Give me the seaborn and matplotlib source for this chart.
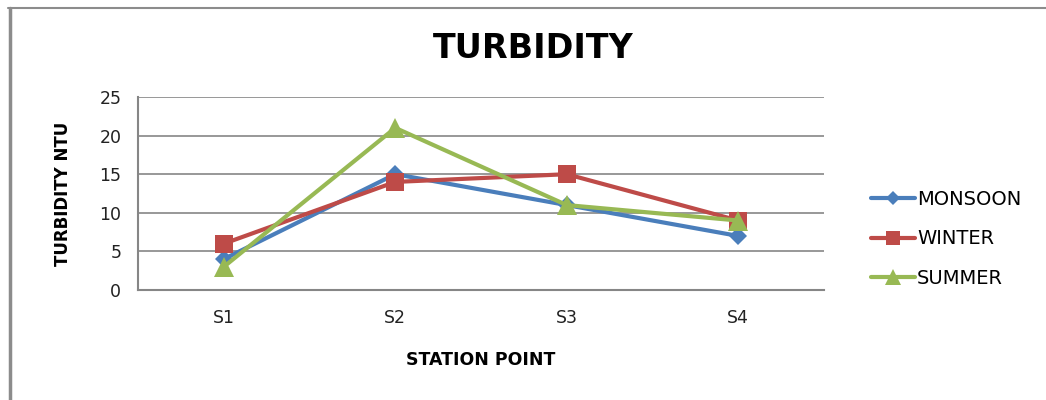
import matplotlib
matplotlib.use("Agg")
import matplotlib.pyplot as plt
import seaborn as sns
import pandas as pd
from matplotlib.lines import Line2D

stations = ["S1", "S2", "S3", "S4"]
monsoon = [4, 15, 11, 7]
winter = [6, 14, 15, 9]
summer = [3, 21, 11, 9]
season_names = ["MONSOON", "WINTER", "SUMMER"]
yticks = [0, 5, 10, 15, 20, 25]

df = pd.DataFrame({
    "station": stations * 3,
    "value": monsoon + winter + summer,
    "season": [s for s in season_names for _ in stations],
})

sns.set_style("white")
plt.rcParams["font.family"] = ["DejaVu Sans"]

colors = {"MONSOON": "#4A7EBB", "WINTER": "#BE4B48", "SUMMER": "#98B954"}
markers = {"MONSOON": "D", "WINTER": "s", "SUMMER": "^"}
msizes = {"MONSOON": 9, "WINTER": 13, "SUMMER": 14}

fig = plt.figure(figsize=(10.46, 4.0), dpi=100)
ax = fig.add_axes([138 / 1046, 1 - 290 / 400, 686 / 1046, 193 / 400])

for name in season_names:
    sub = df[df["season"] == name]
    sns.lineplot(data=sub, x="station", y="value", ax=ax, color=colors[name],
                 marker=markers[name], markersize=msizes[name], linewidth=3,
                 markeredgewidth=0, sort=False, legend=False, zorder=3)

ax.set_xlim(-0.5, 3.5)
ax.set_ylim(0, 25)
ax.set_yticks(yticks)
ax.set_yticklabels([str(t) for t in yticks])
ax.yaxis.grid(True, color="#868686", linewidth=1.2)
ax.set_axisbelow(True)
for side in ["top", "right"]:
    ax.spines[side].set_visible(False)
for side in ["left", "bottom"]:
    ax.spines[side].set_color("#868686")
    ax.spines[side].set_linewidth(1.5)
ax.tick_params(axis="y", length=7, color="#868686", width=1.2, labelsize=12.5,
               labelcolor="#222222", pad=5)
ax.tick_params(axis="x", length=0, labelsize=12.5, labelcolor="#222222", pad=14)

ax.set_xlabel("STATION POINT", fontsize=12.5, fontweight="bold", labelpad=17,
              color="black")
ax.set_ylabel("TURBIDITY NTU", fontsize=12, fontweight="bold", labelpad=20,
              color="black")

fig.text(533 / 1046, 1 - 48 / 400, "TURBIDITY", ha="center", va="center",
         fontsize=24, fontweight="bold", color="black")

handles = [Line2D([0], [0], color=colors[n], marker=markers[n], linewidth=3,
                  markersize=msizes[n] * 0.8, markeredgewidth=0)
           for n in season_names]
fig.legend(handles, season_names, loc="center left",
           bbox_to_anchor=(853 / 1046, 1 - 239 / 400), frameon=False,
           fontsize=14, handlelength=2.3, handletextpad=0.1,
           labelspacing=1.05, labelcolor="black")

# outer chart frame
fig.add_artist(Line2D([8 / 1046, 1], [1 - 7.5 / 400, 1 - 7.5 / 400],
                      transform=fig.transFigure, color="#8c8c8c", linewidth=1.5))
fig.add_artist(Line2D([9.5 / 1046, 9.5 / 1046], [0, 1 - 7.5 / 400],
                      transform=fig.transFigure, color="#8c8c8c", linewidth=2.5))

fig.savefig("out.png", dpi=100, facecolor="white")
